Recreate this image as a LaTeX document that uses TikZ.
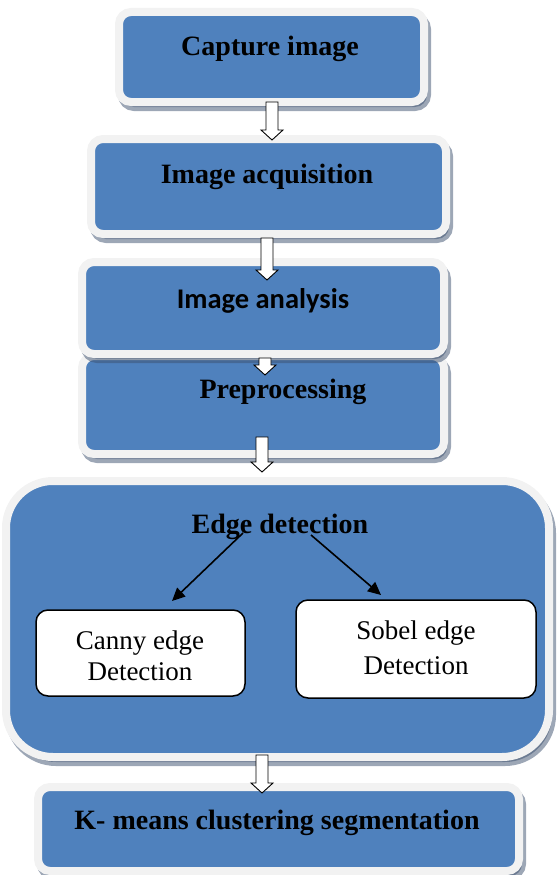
\documentclass[tikz,border=0pt]{standalone}
\usepackage{fontspec}
\setmainfont{Liberation Serif}
\newfontfamily\calfont{Carlito}
\usetikzlibrary{shadows,arrows.meta,calc}
\definecolor{boxblue}{RGB}{79,129,189}
\definecolor{framegray}{RGB}{242,242,242}
\definecolor{shadowc}{RGB}{60,80,110}
\tikzset{
  stepbox/.style={rectangle, rounded corners=#1, fill=boxblue, draw=framegray,
    line width=8pt, inner sep=0pt,
    general shadow={fill=shadowc, draw=shadowc, line width=8pt, opacity=0.5,
      shadow xshift=3pt, shadow yshift=-5pt}},
  stepbox/.default=12pt,
  head/.style={font=\fontsize{28}{32}\selectfont\bfseries, inner sep=0pt, anchor=base},
  subbox/.style={rectangle, rounded corners=12pt, fill=white, draw=black,
    line width=1.5pt, inner sep=0pt},
  subtext/.style={font=\fontsize{27}{#1}\selectfont, align=center, inner sep=0pt},
  hollow/.style={draw=black, fill=white, line width=0.9pt, line join=miter,
    to path={let \p1=(\tikztostart), \p2=(\tikztotarget) in
      (\x1-6pt,\y1) -- (\x1+6pt,\y1) -- (\x1+6pt,\y2+10pt) -- (\x1+11pt,\y2+10pt)
      -- (\x1,\y2) -- (\x1-11pt,\y2+10pt) -- (\x1-6pt,\y2+10pt) -- cycle}},
  thinarrow/.style={draw=black, line width=1.6pt, -{Triangle[length=13pt,width=12pt]}}
}
\begin{document}
\begin{tikzpicture}[x=1pt,y=-1pt]
\useasboundingbox (0,0) rectangle (558,875);
% blue step boxes
\node[stepbox, minimum width=305pt, minimum height=90pt] (b1) at (271.5,57) {};
\node[stepbox, minimum width=355pt, minimum height=95pt] (b2) at (268.5,186.5) {};
\node[stepbox, minimum width=362pt, minimum height=98pt] (b4) at (263,405) {};
\node[stepbox, minimum width=362pt, minimum height=92pt] (b3) at (263,308) {};
\node[stepbox=47pt, minimum width=543pt, minimum height=276pt] (b5) at (277.5,619) {};
\node[stepbox, minimum width=481pt, minimum height=84pt] (b6) at (278.5,829) {};
% texts
\node[head] (t1) at (270,56) {Capture image};
\node[head] (t2) at (267,183) {Image acquisition};
\node[head, font=\calfont\fontsize{28.5}{32}\selectfont\bfseries] (t3) at (263,308) {Image analysis};
\node[head] (t4) at (283,398) {Preprocessing};
\node[head] (t5) at (280,533) {Edge detection};
\node[head] (t6) at (277,829) {K- means clustering segmentation};
% sub boxes
\node[subbox, minimum width=209pt, minimum height=86pt] (canny) at (140.5,653) {};
\node[subbox, minimum width=240pt, minimum height=98pt] (sobel) at (416,649) {};
\node[subtext=31pt] (tc) at (140,656) {Canny edge\\Detection};
\node[subtext=35pt] (ts) at (416,648) {Sobel edge\\Detection};
% thin arrows
\coordinate (e1s) at (243,533);
\coordinate (e1e) at (172,601);
\coordinate (e2s) at (311,535);
\coordinate (e2e) at (381,595);
\draw[thinarrow] (e1s) -- (e1e);
\draw[thinarrow] (e2s) -- (e2e);
% hollow arrows
\coordinate (a1s) at (272,102);
\coordinate (a1e) at (272,140);
\coordinate (a2s) at (267,238);
\coordinate (a2e) at (267,280);
\coordinate (a3s) at (265,358);
\coordinate (a3e) at (265,375);
\coordinate (a4s) at (262,437);
\coordinate (a4e) at (262,472);
\coordinate (a5s) at (262,755);
\coordinate (a5e) at (262,793);
\path[hollow] (a1s) to (a1e);
\path[hollow] (a2s) to (a2e);
\path[hollow] (a3s) to (a3e);
\path[hollow] (a4s) to (a4e);
\path[hollow] (a5s) to (a5e);
\end{tikzpicture}
\end{document}
